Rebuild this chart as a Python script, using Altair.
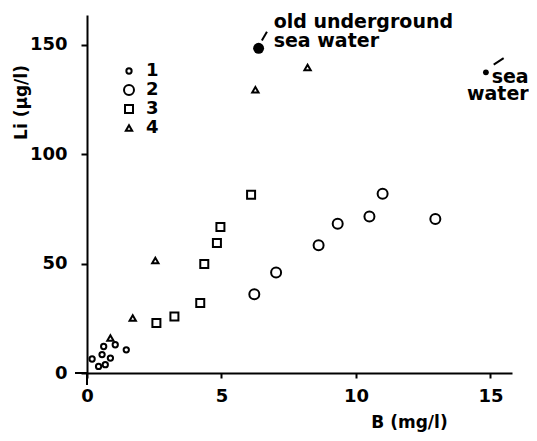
import altair as alt
import pandas as pd

# ---- data ----
series = ["1", "2", "3", "4"]
s1_x = [0.19, 0.56, 0.87, 0.43, 0.68, 0.62, 1.05, 1.46]
s1_y = [6.4, 8.4, 6.8, 3.0, 3.8, 12.1, 12.9, 10.6]
s2_x = [6.22, 7.03, 8.61, 9.32, 10.5, 10.99, 12.95]
s2_y = [36.0, 45.9, 58.3, 68.2, 71.5, 81.9, 70.3]
s3_x = [2.58, 3.25, 4.21, 4.36, 4.83, 4.96, 6.10]
s3_y = [22.8, 25.8, 32.0, 49.8, 59.4, 66.7, 81.4]
s4_x = [0.87, 1.70, 2.54, 6.26, 8.20]
s4_y = [16.0, 25.1, 51.4, 129.4, 139.5]

ref_names = ["old underground sea water", "sea water"]
ref_x = [6.38, 14.83]
ref_y = [148.3, 137.3]

# annotation texts and their anchor points (data units)
old_lines = ["old underground", "sea water"]
old_tx = [6.94, 6.94]
old_ty = [157.5, 149.1]
sea_lines = ["sea", "water"]
sea_tx = [16.42, 16.42]
sea_ty = [132.6, 124.8]
# leader strokes (data units)
lead_x = [6.50, 15.12]
lead_y = [151.9, 140.8]
lead_x2 = [6.69, 15.49]
lead_y2 = [155.9, 143.8]

x_ticks = [0, 5, 10, 15]
y_ticks = [0, 50, 100, 150]
x_title = "B (mg/l)"
y_title = "Li (μg/l)"

FONT = "DejaVu Sans"
W, H = 425, 358
X_MAX, Y_MAX = 15.8, 163.5
CROSS = 12  # px that the axes reach past the origin

rows = []
for s, xs_, ys_ in zip(series, [s1_x, s2_x, s3_x, s4_x], [s1_y, s2_y, s3_y, s4_y]):
    for a, b in zip(xs_, ys_):
        rows.append({"series": s, "B": a, "Li": b})
pts = pd.DataFrame(rows)
refs = pd.DataFrame({"name": ref_names, "B": ref_x, "Li": ref_y})
txt = pd.DataFrame({
    "t": old_lines + sea_lines,
    "B": old_tx + sea_tx,
    "Li": old_ty + sea_ty,
    "grp": ["old", "old", "sea", "sea"],
})
leads = pd.DataFrame({"B": lead_x, "Li": lead_y, "B2": lead_x2, "Li2": lead_y2})

xs = alt.Scale(domain=[0, X_MAX], nice=False, zero=False)
ys = alt.Scale(domain=[0, Y_MAX], nice=False, zero=False)

common_axis = dict(
    grid=False, domainColor="black", domainWidth=2, tickColor="black", tickWidth=2,
    labelFont=FONT, labelFontWeight="bold", labelFontSize=18, labelColor="black",
    labelFlush=False,
    titleFont=FONT, titleFontWeight="bold", titleFontSize=17, titleColor="black",
    titleAlign="center", titleBaseline="middle",
)
x_axis = alt.Axis(values=x_ticks, title=x_title, tickSize=5, labelPadding=9,
                  titleX=322, titleY=49, **common_axis)
y_axis = alt.Axis(values=y_ticks, title=y_title, tickSize=6, labelPadding=14,
                  titleX=-66, titleY=87, titleAngle=270, **common_axis)

base_pts = alt.Chart(pts).mark_point(filled=False, color="black", strokeWidth=2, opacity=1, clip=False).encode(
    x=alt.X("B:Q", scale=xs, axis=x_axis),
    y=alt.Y("Li:Q", scale=ys, axis=y_axis),
    shape=alt.Shape("series:N", scale=alt.Scale(domain=series, range=["circle", "circle", "square", "triangle-up"]),
                    legend=alt.Legend(title=None, orient="none", legendX=33, legendY=47)),
    size=alt.Size("series:N", scale=alt.Scale(type="ordinal", domain=series, range=[28, 100, 64, 40]),
                  legend=alt.Legend(title=None, orient="none", legendX=33, legendY=47)),
)

# axes crossing past the origin (scanned-figure style)
cross_df = pd.DataFrame({"B": [0.0], "Li": [0.0],
                         "B2": [-CROSS * X_MAX / W], "Li2": [-CROSS * Y_MAX / H]})
cross_v = alt.Chart(cross_df).mark_rule(color="black", strokeWidth=2, clip=False).encode(
    x="B:Q", y="Li:Q", y2="Li2:Q")
cross_h = alt.Chart(cross_df).mark_rule(color="black", strokeWidth=2, clip=False).encode(
    x="B:Q", x2="B2:Q", y="Li:Q")

ref_big = alt.Chart(refs).transform_filter(alt.datum.name == ref_names[0]).mark_circle(
    color="black", size=120, opacity=1).encode(x="B:Q", y="Li:Q")
ref_small = alt.Chart(refs).transform_filter(alt.datum.name == ref_names[1]).mark_circle(
    color="black", size=34, opacity=1).encode(x="B:Q", y="Li:Q")

lead_rules = alt.Chart(leads).mark_rule(color="black", strokeWidth=2).encode(
    x="B:Q", y="Li:Q", x2="B2:Q", y2="Li2:Q")

old_text = alt.Chart(txt).transform_filter(alt.datum.grp == "old").mark_text(
    align="left", baseline="alphabetic", font=FONT, fontWeight="bold", fontSize=19, color="black"
).encode(x="B:Q", y="Li:Q", text="t:N")
sea_text = alt.Chart(txt).transform_filter(alt.datum.grp == "sea").mark_text(
    align="right", baseline="alphabetic", font=FONT, fontWeight="bold", fontSize=19, color="black"
).encode(x="B:Q", y="Li:Q", text="t:N")

chart = alt.layer(base_pts, cross_v, cross_h, ref_big, ref_small, lead_rules, old_text, sea_text).properties(
    width=W, height=H,
    autosize=alt.AutoSizeParams(type="none"),
    padding={"left": 79, "top": 7, "right": 17, "bottom": 60},
    background="white",
).configure_view(stroke=None).configure_legend(
    labelFont=FONT, labelFontWeight="bold", labelFontSize=18, labelColor="black",
    symbolStrokeColor="black", symbolStrokeWidth=2, symbolFillColor="white",
    rowPadding=1, labelOffset=8,
)

chart.save("out.html", embed_options={"renderer": "svg", "actions": False})
